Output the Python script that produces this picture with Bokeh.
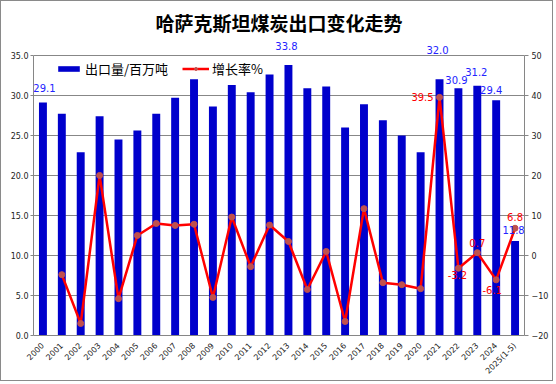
import math
from bokeh.plotting import figure
from bokeh.models import (ColumnDataSource, LinearAxis, Range1d, FixedTicker,
                          Legend, LegendItem, NumeralTickFormatter, Label)
from bokeh.embed import file_html
from bokeh.resources import INLINE

# ---------------- data ----------------
years = ["2000", "2001", "2002", "2003", "2004", "2005", "2006", "2007", "2008",
         "2009", "2010", "2011", "2012", "2013", "2014", "2015", "2016", "2017",
         "2018", "2019", "2020", "2021", "2022", "2023", "2024", "2025(1-5)"]
exports = [29.1, 27.7, 22.9, 27.4, 24.5, 25.6, 27.7, 29.7, 32.0, 28.6, 31.3, 30.4,
           32.6, 33.8, 30.9, 31.1, 26.0, 28.9, 26.9, 25.0, 22.9, 32.0, 30.9, 31.2,
           29.4, 11.8]
growth = [float("nan"), -4.8, -17.0, 20.0, -10.8, 5.0, 8.0, 7.5, 7.8, -10.5, 9.6, -2.8,
          7.6, 3.5, -8.5, 1.0, -16.5, 11.7, -6.8, -7.3, -8.3, 39.5, -3.2, 0.7,
          -6.1, 6.8]
left_ticks = [0, 5, 10, 15, 20, 25, 30, 35]
right_ticks = [-20, -10, 0, 10, 20, 30, 40, 50]
bar_label_years = ["2000", "2013", "2021", "2022", "2023", "2024", "2025(1-5)"]
growth_label_years = ["2021", "2022", "2023", "2024", "2025(1-5)"]
title_text = "哈萨克斯坦煤炭出口变化走势"
series_names = ["出口量/百万吨", "增长率%"]

# ---------------- layout ----------------
W, H = 553, 381
B_LEFT, B_RIGHT, B_TOP, B_BOTTOM = 32, 30, 36, 47
AXIS_TOP_PX = 51          # canvas y where the top ticks (35 / 50) sit
frame_h = H - B_TOP - B_BOTTOM
axis_h = H - AXIS_TOP_PX - B_BOTTOM
stretch = frame_h / axis_h  # extra headroom so value labels above 35 aren't clipped

l0, l1 = left_ticks[0], left_ticks[-1]
r0, r1 = right_ticks[0], right_ticks[-1]

p = figure(x_range=years, y_range=Range1d(l0, l0 + (l1 - l0) * stretch),
           width=W, height=H, output_backend="svg", toolbar_location=None,
           min_border_left=B_LEFT, min_border_right=B_RIGHT,
           min_border_top=B_TOP, min_border_bottom=B_BOTTOM)
p.styles = {"border": "1px solid #8a8a8a"}
p.extra_y_ranges = {"g": Range1d(r0, r0 + (r1 - r0) * stretch)}

p.title.text = title_text
p.title.align = "center"
p.title.text_font = "Noto Sans CJK SC"
p.title.text_font_size = "19px"
p.title.text_font_style = "bold"
p.title.text_color = "#000000"
p.title.offset = 0

p.outline_line_color = None
p.background_fill_color = "white"
p.border_fill_color = "white"

src = ColumnDataSource(dict(x=years, e=exports, g=growth))
bars = p.vbar(x="x", top="e", width=0.42, source=src, fill_color="#0000CC",
              line_color=None)
ln = p.line(x="x", y="g", source=src, y_range_name="g", line_color="#FF0000",
            line_width=2.5)
pts = p.scatter(x="x", y="g", source=src, y_range_name="g", size=6,
                fill_color="#C0504D", line_color="#C0504D")

# value labels (screen offsets: +y is up)
bar_off = {"2000": (1.5, 15), "2013": (-2, 19), "2021": (-2, 29), "2022": (-2, 8),
           "2023": (-1, 14), "2024": (-5, 10), "2025(1-5)": (-1.5, 11.5)}
for yr in bar_label_years:
    i = years.index(yr)
    p.add_layout(Label(x=i + 0.5, y=exports[i], text=f"{exports[i]:.1f}",
                       x_offset=bar_off[yr][0], y_offset=bar_off[yr][1],
                       text_align="center", text_baseline="middle",
                       text_color="#2323FF", text_font="DejaVu Sans",
                       text_font_size="10px"))

g_off = {"2021": (-17, 0), "2022": (-1, -7), "2023": (0, 10), "2024": (-4, -10),
         "2025(1-5)": (0, 11)}
for yr in growth_label_years:
    i = years.index(yr)
    p.add_layout(Label(x=i + 0.5, y=growth[i], y_range_name="g",
                       text=f"{growth[i]:.1f}",
                       x_offset=g_off[yr][0], y_offset=g_off[yr][1],
                       text_align="center", text_baseline="middle",
                       text_color="#FF0000", text_font="DejaVu Sans",
                       text_font_size="10px"))

# axes
axis_col = "#868686"
yax = p.yaxis[0]
yax.ticker = FixedTicker(ticks=left_ticks)
yax.bounds = (l0, l1)
yax.formatter = NumeralTickFormatter(format="0.0")
yax.axis_line_color = axis_col
yax.major_tick_line_color = axis_col
yax.major_tick_out = 3
yax.major_tick_in = 0
yax.minor_tick_line_color = None
yax.major_label_standoff = 2
yax.major_label_text_font = "DejaVu Sans"
yax.major_label_text_font_size = "8px"
yax.major_label_text_color = "#222222"

rax = LinearAxis(y_range_name="g", ticker=FixedTicker(ticks=right_ticks),
                 bounds=(r0, r1))
rax.axis_line_color = axis_col
rax.major_tick_line_color = axis_col
rax.major_tick_out = 4
rax.major_tick_in = 0
rax.minor_tick_line_color = None
rax.major_label_standoff = 3
rax.major_label_text_font = "DejaVu Sans"
rax.major_label_text_font_size = "8px"
rax.major_label_text_color = "#222222"
p.add_layout(rax, "right")

xax = p.xaxis[0]
xax.axis_line_color = axis_col
xax.major_tick_line_color = None
xax.major_label_orientation = math.pi / 4
xax.major_label_standoff = 3
xax.major_label_text_font = "DejaVu Sans"
xax.major_label_text_font_size = "8px"
xax.major_label_text_color = "#222222"

p.xgrid.grid_line_color = None
p.ygrid.grid_line_color = "#878787"
p.ygrid.grid_line_width = 1
p.ygrid.ticker = FixedTicker(ticks=left_ticks)

legend = Legend(items=[LegendItem(label=series_names[0], renderers=[bars]),
                       LegendItem(label=series_names[1], renderers=[ln, pts])],
                orientation="horizontal", location=(22, 257),
                glyph_width=27, glyph_height=7, label_height=16, padding=0,
                spacing=14, label_standoff=3, background_fill_alpha=0,
                border_line_color=None, label_text_font="Noto Sans CJK SC",
                label_text_font_size="13px", label_text_color="#000000")
p.add_layout(legend)

open("out.html", "w").write(file_html(p, INLINE))
